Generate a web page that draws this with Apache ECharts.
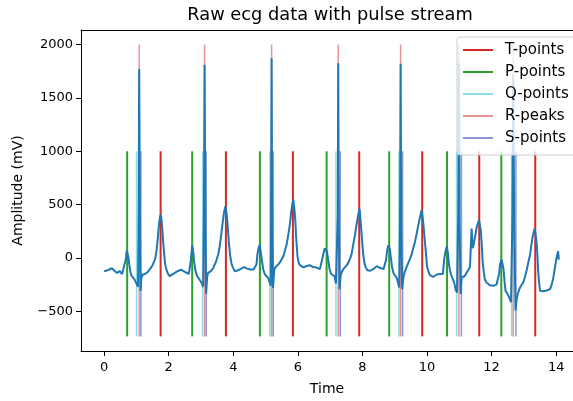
<!DOCTYPE html>
<html>
<head>
<meta charset="utf-8">
<script src="https://cdn.jsdelivr.net/npm/echarts@6/dist/echarts.min.js"></script>
<style>html,body{margin:0;padding:0;background:#fff}#c{width:573px;height:401px}</style>
</head>
<body>
<div id="c"></div>
<script>
// ---- data ----
const xTickValues = [0, 2, 4, 6, 8, 10, 12, 14];
const yTickValues = [-500, 0, 500, 1000, 1500, 2000];
const tPoints = [1.750, 3.772, 5.847, 7.900, 9.851, 11.617, 13.351];
const pPoints = [0.715, 2.728, 4.825, 6.891, 8.829, 10.620, 12.300];
const qPoints = [1.006, 3.050, 5.135, 7.179, 9.130, 10.917, 12.620];
const rPeaks  = [1.087, 3.112, 5.187, 7.250, 9.182, 10.988, 12.670];
const sPoints = [1.140, 3.162, 5.237, 7.312, 9.244, 11.065, 12.753];
const pulseLow = -735;
const pulseHigh = 1000;
const rPeakHigh = 2000;
const ecgTrace = [
[0.00,-125],[0.04,-135],[0.08,-118],[0.12,-130],[0.16,-108],[0.20,-100],[0.24,-95],[0.28,-110],[0.32,-120],[0.36,-135],[0.40,-140],[0.44,-128],[0.48,-122],[0.52,-135],[0.56,-150],[0.60,-140],[0.63,-60],[0.67,-20],[0.70,70],[0.72,85],[0.75,10],[0.78,-60],[0.82,-140],[0.86,-170],[0.90,-185],[0.94,-200],[0.98,-210],[1.02,-250],[1.05,-270],
[1.07,400],[1.087,1771],[1.11,300],[1.13,-310],[1.15,-200],[1.18,-160],[1.22,-175],[1.26,-150],[1.30,-155],[1.34,-135],[1.38,-130],[1.42,-105],[1.46,-90],[1.50,-70],[1.54,-40],[1.58,-10],[1.62,60],[1.66,170],[1.70,320],[1.73,380],[1.75,405],[1.77,380],[1.80,280],[1.83,150],[1.86,40],[1.89,-60],[1.93,-110],[1.98,-150],[2.03,-170],[2.08,-160],[2.14,-150],[2.20,-140],[2.26,-125],[2.32,-115],[2.38,-110],[2.44,-120],[2.50,-130],[2.56,-135],[2.62,-150],[2.66,-160],[2.68,-40],[2.71,60],[2.73,115],[2.76,60],[2.79,-40],[2.83,-120],[2.88,-170],[2.93,-190],[2.98,-200],[3.03,-240],[3.07,-270],
[3.09,400],[3.112,1811],[3.135,300],[3.16,-338],[3.19,-180],[3.22,-140],[3.26,-135],[3.30,-125],[3.34,-115],[3.38,-95],[3.42,-65],[3.46,-40],[3.50,0],[3.54,40],[3.58,110],[3.62,200],[3.66,300],[3.70,400],[3.73,450],[3.76,486],[3.79,420],[3.82,330],[3.86,160],[3.90,30],[3.95,-60],[4.00,-95],[4.05,-125],[4.10,-130],[4.15,-115],[4.20,-108],[4.25,-100],[4.30,-90],[4.34,-86],[4.38,-95],[4.43,-100],[4.48,-110],[4.53,-108],[4.58,-112],[4.63,-108],[4.68,-115],[4.72,-60],[4.75,40],[4.79,100],[4.82,123],[4.85,60],[4.89,-30],[4.93,-110],[4.98,-155],[5.03,-170],[5.08,-185],[5.12,-220],[5.16,-261],
[5.17,400],[5.187,1872],[5.205,300],[5.23,-280],[5.27,-110],[5.31,-85],[5.35,-70],[5.39,-62],[5.43,-45],[5.47,-30],[5.51,-5],[5.55,15],[5.60,70],[5.65,123],[5.70,210],[5.75,308],[5.79,420],[5.83,510],[5.86,547],[5.89,470],[5.92,360],[5.95,180],[5.99,10],[6.03,-50],[6.07,-70],[6.12,-80],[6.17,-88],[6.22,-86],[6.27,-75],[6.32,-70],[6.37,-68],[6.42,-80],[6.47,-85],[6.53,-92],[6.58,-90],[6.63,-95],[6.68,-105],[6.72,-108],[6.75,-20],[6.79,40],[6.83,90],[6.87,108],[6.90,60],[6.94,-20],[6.98,-100],[7.03,-150],[7.08,-160],[7.13,-170],[7.18,-240],[7.22,-250],
[7.235,400],[7.25,1826],[7.27,300],[7.29,-292],[7.33,-154],[7.38,-120],[7.42,-100],[7.46,-92],[7.51,-70],[7.56,-46],[7.61,-10],[7.66,31],[7.70,100],[7.74,170],[7.77,215],[7.81,300],[7.84,354],[7.88,420],[7.91,461],[7.94,360],[7.97,240],[8.00,120],[8.03,20],[8.07,-60],[8.10,-86],[8.15,-115],[8.20,-129],[8.25,-120],[8.30,-110],[8.35,-100],[8.40,-85],[8.44,-77],[8.48,-85],[8.54,-92],[8.60,-100],[8.65,-105],[8.70,-110],[8.73,-20],[8.76,60],[8.80,120],[8.82,138],[8.85,80],[8.88,0],[8.92,-90],[8.96,-140],[9.01,-165],[9.06,-185],[9.10,-230],[9.14,-277],
[9.165,400],[9.182,1820],[9.20,300],[9.23,-292],[9.27,-180],[9.31,-130],[9.36,-90],[9.42,-46],[9.47,-10],[9.52,31],[9.57,90],[9.63,154],[9.68,230],[9.73,308],[9.78,380],[9.83,446],[9.86,390],[9.89,308],[9.92,200],[9.95,100],[9.97,31],[10.00,-80],[10.04,-123],[10.09,-160],[10.14,-170],[10.19,-178],[10.25,-165],[10.30,-155],[10.35,-148],[10.40,-150],[10.45,-155],[10.49,-150],[10.53,-15],[10.57,60],[10.61,108],[10.64,60],[10.68,-62],[10.72,-130],[10.76,-169],[10.80,-200],[10.84,-231],[10.89,-300],[10.93,-323],
[10.965,400],[10.988,1830],[11.01,300],[11.04,-338],[11.07,-185],[11.12,-180],[11.17,-169],[11.22,-140],[11.29,-108],[11.33,-80],[11.36,-62],[11.38,277],[11.41,92],[11.44,120],[11.46,154],[11.50,220],[11.53,277],[11.57,320],[11.61,354],[11.64,300],[11.67,246],[11.70,100],[11.72,-31],[11.76,-140],[11.79,-200],[11.84,-230],[11.89,-246],[11.95,-255],[12.00,-250],[12.05,-261],[12.10,-255],[12.15,-250],[12.19,-246],[12.23,-150],[12.26,-62],[12.31,-15],[12.34,-60],[12.37,-108],[12.40,-220],[12.43,-308],[12.48,-330],[12.52,-344],[12.56,-380],[12.60,-415],
[12.645,400],[12.67,1722],[12.70,300],[12.74,-492],[12.78,-380],[12.81,-338],[12.85,-300],[12.88,-277],[12.93,-250],[12.98,-231],[13.03,-180],[13.08,-123],[13.13,-50],[13.19,31],[13.23,120],[13.26,184],[13.30,240],[13.33,277],[13.36,230],[13.39,154],[13.42,20],[13.44,-123],[13.47,-230],[13.50,-308],[13.55,-318],[13.60,-312],[13.65,-320],[13.70,-305],[13.75,-300],[13.81,-292],[13.86,-250],[13.91,-185],[13.96,-90],[14.01,0],[14.04,40],[14.06,62],[14.08,-15]
];

// ---- chart ----
const FONT = 'DejaVu Sans';
const X_MIN = -0.715, X_MAX = 14.52;
function vlineRender(color, width) {
  return function (params, api) {
    const a = api.coord([api.value(0), api.value(1)]);
    const b = api.coord([api.value(0), api.value(2)]);
    return { type: 'line', shape: { x1: a[0], y1: a[1], x2: b[0], y2: b[1] },
             style: { stroke: color, lineWidth: width } };
  };
}
function vlineSeries(name, times, top, color, width) {
  return {
    name: name, type: 'custom', z: 1, silent: true,
    renderItem: vlineRender(color, width),
    encode: { x: 0, y: [1, 2] },
    itemStyle: { color: color },
    data: times.map(t => [t, pulseLow, top])
  };
}
const colT = '#d62728', colP = '#2ca02c';
const colQ = 'rgba(23,190,207,0.5)', colR = 'rgba(214,39,40,0.5)', colS = 'rgba(40,70,180,0.55)';

const chart = echarts.init(document.getElementById('c'), null, { renderer: 'canvas' });
chart.setOption({
  animation: false,
  textStyle: { fontFamily: FONT },
  title: {
    text: 'Raw ecg data with pulse stream', left: 330, top: 6, textAlign: 'center', padding: 0,
    textStyle: { fontFamily: FONT, fontSize: 17.8, fontWeight: 'normal', color: '#000' }
  },
  grid: { left: 81, right: 0, top: 30, bottom: 47, show: false, containLabel: false },
  legend: {
    orient: 'vertical', left: 457, top: 37,
    padding: [5, 16, 9, 6], itemGap: 6, itemWidth: 30, itemHeight: 2,
    backgroundColor: 'rgba(255,255,255,0.8)', borderColor: '#cccccc', borderWidth: 1, borderRadius: 3,
    icon: 'rect',
    textStyle: { fontFamily: FONT, fontSize: 15, color: '#000', lineHeight: 16, padding: [0, 0, 0, 7] },
    data: [
      { name: 'T-points', itemStyle: { color: colT } },
      { name: 'P-points', itemStyle: { color: colP } },
      { name: 'Q-points', itemStyle: { color: colQ } },
      { name: 'R-peaks', itemStyle: { color: colR } },
      { name: 'S-points', itemStyle: { color: colS } }
    ],
    z: 10
  },
  xAxis: [{
    type: 'value', min: X_MIN, max: X_MAX,
    name: 'Time', nameLocation: 'middle', nameGap: 31,
    nameTextStyle: { fontFamily: FONT, fontSize: 14, color: '#000' },
    axisLine: { show: true, onZero: false, lineStyle: { color: '#000', width: 1 } },
    axisTick: { show: true, length: 5, customValues: xTickValues, lineStyle: { color: '#000' } },
    axisLabel: { customValues: xTickValues, fontFamily: FONT, fontSize: 13, color: '#000', margin: 10 },
    splitLine: { show: false }
  }, {
    type: 'value', position: 'top', min: X_MIN, max: X_MAX,
    axisLine: { show: true, onZero: false, lineStyle: { color: '#000', width: 1 } },
    axisTick: { show: false }, axisLabel: { show: false }, splitLine: { show: false }
  }],
  yAxis: {
    type: 'value', min: -872, max: 2137,
    name: 'Amplitude (mV)', nameLocation: 'middle', nameGap: 56, nameRotate: 90,
    nameTextStyle: { fontFamily: FONT, fontSize: 14, color: '#000' },
    axisLine: { show: true, onZero: false, lineStyle: { color: '#000', width: 1 } },
    axisTick: { show: true, length: 5, customValues: yTickValues, lineStyle: { color: '#000' } },
    axisLabel: { customValues: yTickValues, fontFamily: FONT, fontSize: 13, color: '#000', margin: 8,
      formatter: v => String(v).replace('-', '\u2212') },
    splitLine: { show: false }
  },
  series: [
    vlineSeries('T-points', tPoints, pulseHigh, colT, 2),
    vlineSeries('P-points', pPoints, pulseHigh, colP, 2),
    vlineSeries('Q-points', qPoints, pulseHigh, colQ, 1.5),
    vlineSeries('R-peaks', rPeaks, rPeakHigh, colR, 1.5),
    vlineSeries('S-points', sPoints, pulseHigh, colS, 1.5),
    {
      name: 'ECG', type: 'line', z: 3, showSymbol: false, symbol: 'none', silent: true,
      lineStyle: { color: '#1f77b4', width: 2 }, itemStyle: { color: '#1f77b4' },
      data: ecgTrace
    }
  ]
});
</script>
</body>
</html>
